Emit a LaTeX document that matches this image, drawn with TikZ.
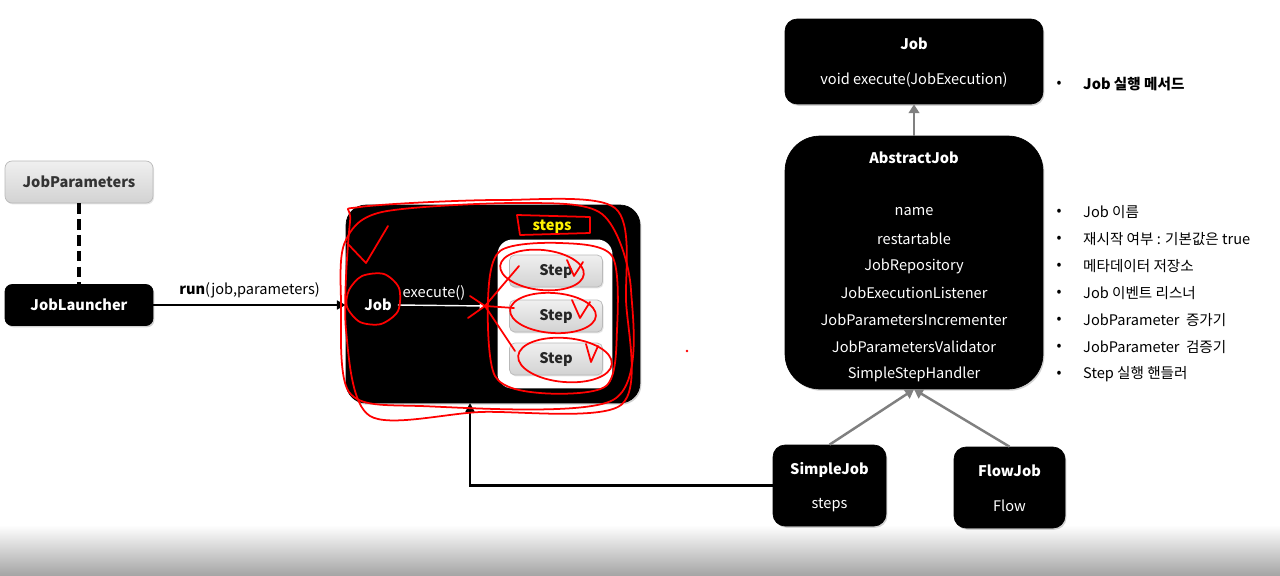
\documentclass[tikz,border=0pt]{standalone}
\usepackage{fontspec}
\setmainfont{Noto Sans CJK KR}
\usetikzlibrary{arrows.meta,shadows}
\tikzset{
  darkbox/.style={fill=black, draw=black, drop shadow={opacity=0.35,shadow xshift=0.8pt,shadow yshift=-1pt}},
  lightbox/.style={top color=gray!12, bottom color=gray!35, draw=gray!55, drop shadow={opacity=0.2,shadow xshift=0.6pt,shadow yshift=-0.8pt}},
  title/.style={text=white, font=\fontsize{8.3}{10}\selectfont\bfseries},
  attr/.style={text=white, font=\fontsize{8.3}{10}\selectfont},
  note/.style={anchor=west, font=\fontsize{8.3}{10}\selectfont},
  bullet/.style={font=\fontsize{8.3}{10}\selectfont},
  stepbox/.style={lightbox, rounded corners=3pt, minimum width=1.86cm, minimum height=0.64cm, font=\fontsize{8.3}{10}\selectfont\bfseries, text=black!85},
  ext/.style={draw=gray, line width=1.4pt, -{Triangle[length=5pt,width=6pt]}},
  redmark/.style={draw=red, line width=1pt, line cap=round, line join=round}
}
\begin{document}
\begin{tikzpicture}[x=0.02cm,y=-0.02cm]
  \useasboundingbox (0,0) rectangle (1280,575);
  \fill[white] (0,0) rectangle (1280,575);
  \shade[top color=white, bottom color=gray!70] (0,525) rectangle (1280,575);

  % left side
  \node[lightbox, rounded corners=4pt, minimum width=2.96cm, minimum height=0.84cm,
        font=\fontsize{8.3}{10}\selectfont\bfseries, text=black!80] (params) at (79,182) {JobParameters};
  \node[darkbox, rounded corners=4pt, minimum width=2.96cm, minimum height=0.82cm, title] (launcher) at (79,305) {JobLauncher};
  \draw[line width=2pt, dash pattern=on 6pt off 3pt] (params) -- (launcher);

  % job container
  \node[darkbox, rounded corners=0.4cm, minimum width=5.88cm, minimum height=3.96cm] (jobbox) at (493,304) {};
  \node[fill=white, rounded corners=0.3cm, minimum width=2.3cm, minimum height=2.98cm] (panel) at (555,314) {};
  \node[title] (jobname) at (378,305) {Job};
  \node[attr] (exec) at (434,293) {execute()};
  \node[text=yellow, font=\fontsize{8.3}{10}\selectfont\bfseries] (stepslbl) at (552,227) {steps};
  \node[stepbox] (step1) at (556,271) {Step};
  \node[stepbox] (step2) at (556,316) {Step};
  \node[stepbox] (step3) at (556,359) {Step};
  \coordinate (fan) at (485,306);
  \draw[white, line width=0.8pt, -{Triangle[length=3pt,width=3pt]}] (jobname.east) -- (fan);

  \draw[line width=1.5pt, -{Triangle[length=5pt,width=5pt]}] (launcher.east) -- (launcher.east -| jobbox.west)
    node[midway, above, font=\fontsize{8.3}{10}\selectfont] {\textbf{run}(job,parameters)};

  % right side
  \node[darkbox, rounded corners=0.24cm, minimum width=5.16cm, minimum height=1.7cm] (iface) at (914,61.5) {};
  \node[title] (ifacename) at (914,44) {Job};
  \node[attr] (ifaceop) at (914,80) {void execute(JobExecution)};

  \node[darkbox, rounded corners=0.7cm, minimum width=5.16cm, minimum height=5.06cm] (abstract) at (914,262.5) {};
  \node[title] (abstractname) at (914,158) {AbstractJob};
  \foreach \lbl [count=\i] in {name,restartable,JobRepository,JobExecutionListener,JobParametersIncrementer,JobParametersValidator,SimpleStepHandler}
    \node[attr] (field\i) at (914,185+27*\i) {\lbl};

  \node[darkbox, rounded corners=0.24cm, minimum width=2.26cm, minimum height=1.62cm] (simple) at (829.5,485.5) {};
  \node[title] (simplename) at (829.5,470) {SimpleJob};
  \node[attr] (simplesteps) at (829.5,505) {steps};
  \node[darkbox, rounded corners=0.24cm, minimum width=2.22cm, minimum height=1.62cm] (flow) at (1009.5,487.5) {};
  \node[title] (flowname) at (1009.5,471) {FlowJob};
  \node[attr] (flowflow) at (1009.5,506) {Flow};

  \draw[ext] (abstract.north) -- (iface.south);
  \draw[ext] (simple.north) -- (abstract.south);
  \draw[ext] (flow.north) -- (abstract.south);

  \coordinate (jobin) at (470,403);
  \draw[line width=1.5pt, -{Triangle[length=5pt,width=5pt]}] (simple.west) -| (jobin);

  % notes
  \node[bullet] (b0) at (1059,84) {•};
  \node[note, font=\fontsize{8.3}{10}\selectfont\bfseries] (n0) at (1077,84) {Job 실행 메서드};
  \foreach \txt [count=\i] in {Job 이름,재시작 여부 : 기본값은 true,메타데이터 저장소,Job 이벤트 리스너,JobParameter~~증가기,JobParameter~~검증기,Step 실행 핸들러}{
    \node[bullet] (b\i) at (1059,185+27*\i) {•};
    \node[note] (n\i) at (1077,185+27*\i) {\txt};
  }

  % red annotations
  \draw[redmark] plot[smooth cycle] coordinates {(349,290) (362,276) (384,274) (399,288) (398,311) (381,324) (360,322) (347,307)};
  \draw[redmark] plot[smooth cycle] coordinates {(360,207) (500,200) (615,208) (626,300) (621,405) (480,412) (370,416) (346,330) (350,222)};
  \draw[redmark] plot[smooth cycle] coordinates {(345,242) (382,212) (520,203) (602,214) (631,290) (613,400) (420,406) (349,392) (341,300)};
  \draw[redmark] (347,243) -- (366,263) -- (388,226);
  \draw[redmark] (517,215) -- (590,217) -- (590,233) -- (520,235) -- cycle;
  \draw[redmark] plot[smooth cycle] coordinates {(500,251) (560,243) (612,256) (617,330) (606,386) (540,393) (495,376) (488,300)};
  \draw[redmark, rotate around={-6:(542,270)}] (542,270) ellipse [x radius=42, y radius=20];
  \draw[redmark, rotate around={-4:(553,313)}] (553,313) ellipse [x radius=43, y radius=20];
  \draw[redmark, rotate around={-5:(565,360)}] (565,360) ellipse [x radius=47, y radius=22];
  \draw[redmark] (fan) -- (519,266);
  \draw[redmark] (fan) -- (514,308);
  \draw[redmark] (fan) -- (515,351);
  \draw[redmark] (470,296) -- (485,306) -- (468,318);
  \draw[redmark] (567,260) -- (574,276) -- (583,262);
  \draw[redmark] (572,300) -- (580,318) -- (590,302);
  \draw[redmark] (586,344) -- (591,362) -- (598,346);
  \fill[red] (687,351) circle [radius=1.3];
\end{tikzpicture}
\end{document}
